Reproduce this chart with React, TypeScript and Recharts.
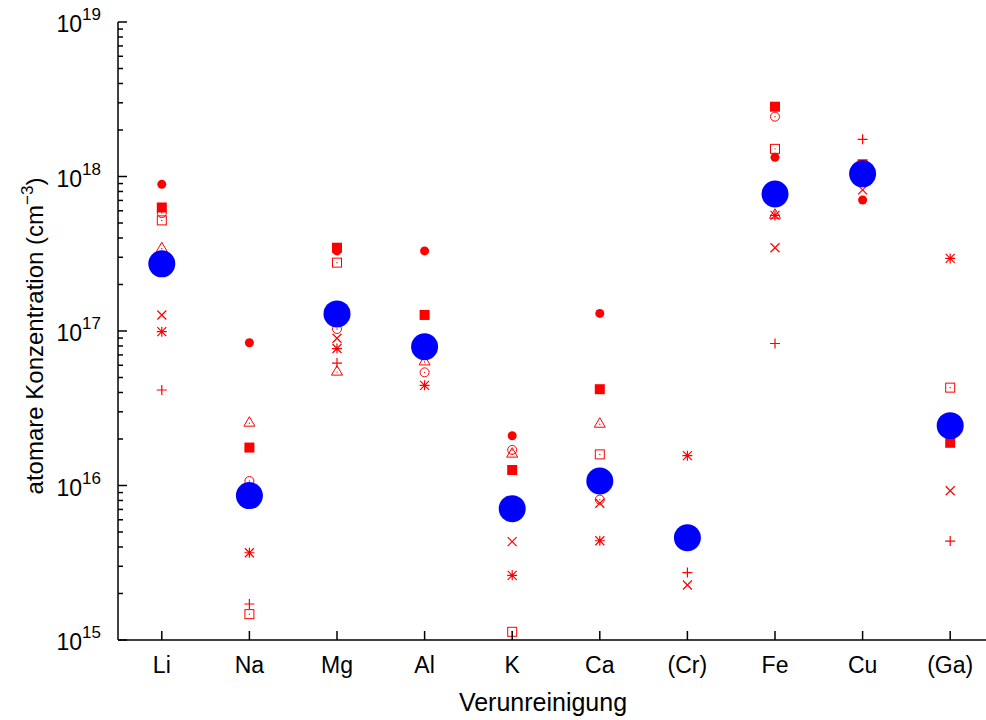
import { ScatterChart, Scatter, XAxis, YAxis } from 'recharts';

// layout of the gnuplot-style frame
const W = 995;
const H = 720;
const PLOT_LEFT = 118;
const PLOT_RIGHT = 994;
const PLOT_TOP = 22;
const PLOT_BOTTOM = 640;
const FONT = '"Liberation Sans", Arial, Helvetica, sans-serif';

const categories = ['Li', 'Na', 'Mg', 'Al', 'K', 'Ca', '(Cr)', 'Fe', 'Cu', '(Ga)'];

// red measurements, one array per symbol (null = no point)
const filledCircle = [8.9e17, 8.4e16, 3.3e17, 3.3e17, 2.1e16, 1.3e17, null, 1.33e18, 7.05e17, null];
const filledSquare = [6.3e17, 1.76e16, 3.46e17, 1.27e17, 1.26e16, 4.2e16, null, 2.83e18, 1.2e18, 1.89e16];
const openCircle = [5.8e17, 1.07e16, 1.03e17, 5.4e16, 1.7e16, 8.1e15, null, 2.44e18, null, null];
const openSquare = [5.2e17, 1.47e15, 2.77e17, null, 1.13e15, 1.59e16, null, 1.51e18, null, 4.3e16];
const openTriangle = [3.46e17, 2.57e16, 5.5e16, 6.4e16, 1.62e16, 2.53e16, null, 5.7e17, null, null];
const cross = [1.27e17, null, 8.97e16, null, 4.33e15, 7.67e15, 2.27e15, 3.46e17, 8.2e17, 9.25e15];
const star = [9.9e16, 3.67e15, 7.7e16, 4.45e16, 2.62e15, 4.39e15, 1.56e16, 5.6e17, null, 2.95e17];
const plus = [4.15e16, 1.71e15, 6.2e16, null, null, null, 2.73e15, 8.3e16, 1.74e18, 4.37e15];
// blue: mean values
const average = [2.72e17, 8.6e15, 1.29e17, 7.9e16, 7.08e15, 1.07e16, 4.59e15, 7.7e17, 1.04e18, 2.44e16];

const yTicks: number[] = [];
for (let e = 15; e < 19; e++) {
  for (let m = 1; m < 10; m++) yTicks.push(m * Math.pow(10, e));
}
yTicks.push(1e19);
const xTicks = categories.map((_, i) => i + 1);

const toPoints = (values: (number | null)[]) =>
  values
    .map((v, i) => (v == null ? null : { x: i + 1, y: v }))
    .filter((p) => p != null) as { x: number; y: number }[];

const RED = '#ff0000';
const BLUE = '#0000ff';

const isMajor = (v: number) => Math.abs(Math.log10(v) - Math.round(Math.log10(v))) < 1e-6;

// --- symbols ---
const FilledCircle = ({ cx, cy }: any) => <circle cx={cx} cy={cy} r={4.5} fill={RED} />;
const FilledSquare = ({ cx, cy }: any) => <rect x={cx - 5} y={cy - 5} width={10} height={10} fill={RED} />;
const OpenCircle = ({ cx, cy }: any) => (
  <g>
    <circle cx={cx} cy={cy} r={4.5} fill="none" stroke={RED} strokeWidth={1} />
    <circle cx={cx} cy={cy} r={0.7} fill={RED} />
  </g>
);
const OpenSquare = ({ cx, cy }: any) => (
  <g>
    <rect x={cx - 4.5} y={cy - 4.5} width={9} height={9} fill="none" stroke={RED} strokeWidth={1} />
    <circle cx={cx} cy={cy} r={0.7} fill={RED} />
  </g>
);
const OpenTriangle = ({ cx, cy }: any) => (
  <g>
    <polygon points={`${cx},${cy - 5.5} ${cx + 5.5},${cy + 4} ${cx - 5.5},${cy + 4}`} fill="none" stroke={RED} strokeWidth={1} />
    <circle cx={cx} cy={cy + 1} r={0.7} fill={RED} />
  </g>
);
const Cross = ({ cx, cy }: any) => (
  <path d={`M${cx - 4.5},${cy - 4.5}L${cx + 4.5},${cy + 4.5}M${cx - 4.5},${cy + 4.5}L${cx + 4.5},${cy - 4.5}`} stroke={RED} strokeWidth={1.2} />
);
const Plus = ({ cx, cy }: any) => (
  <path d={`M${cx - 5},${cy}L${cx + 5},${cy}M${cx},${cy - 5}L${cx},${cy + 5}`} stroke={RED} strokeWidth={1.2} />
);
const Star = ({ cx, cy }: any) => (
  <path
    d={`M${cx - 4.5},${cy - 4.5}L${cx + 4.5},${cy + 4.5}M${cx - 4.5},${cy + 4.5}L${cx + 4.5},${cy - 4.5}M${cx - 5},${cy}L${cx + 5},${cy}M${cx},${cy - 5}L${cx},${cy + 5}`}
    stroke={RED}
    strokeWidth={1.2}
  />
);
const BigDot = ({ cx, cy }: any) => <circle cx={cx} cy={cy} r={13.5} fill={BLUE} />;

// --- axis ticks (gnuplot style, pointing inward) ---
const LeftTick = (props: any) => {
  const { y, payload } = props;
  const major = isMajor(payload.value);
  const exp = Math.round(Math.log10(payload.value));
  return (
    <g>
      <line x1={PLOT_LEFT} x2={PLOT_LEFT + (major ? 9 : 5)} y1={y} y2={y} stroke="#000" strokeWidth={1.5} />
      {major && (
        <text x={101} y={y + 10} textAnchor="end" fontFamily={FONT} fill="#000">
          <tspan fontSize={23}>10</tspan>
          <tspan fontSize={17} dy={-12}>{exp}</tspan>
        </text>
      )}
    </g>
  );
};

const RightTick = (props: any) => {
  const { y, payload } = props;
  const major = isMajor(payload.value);
  return <line x1={PLOT_RIGHT} x2={PLOT_RIGHT - (major ? 9 : 5)} y1={y} y2={y} stroke="#000" strokeWidth={1.5} />;
};

const BottomTick = (props: any) => {
  const { x, payload } = props;
  return (
    <g>
      <line x1={x} x2={x} y1={PLOT_BOTTOM} y2={PLOT_BOTTOM - 9} stroke="#000" strokeWidth={1.5} />
      <text x={x} y={673} textAnchor="middle" fontFamily={FONT} fontSize={23} fill="#000">
        {categories[payload.value - 1]}
      </text>
    </g>
  );
};

const TopTick = (props: any) => {
  const { x } = props;
  return <line x1={x} x2={x} y1={PLOT_TOP} y2={PLOT_TOP + 9} stroke="#000" strokeWidth={1.5} />;
};

const YLabel = () => (
  <text
    x={0}
    y={0}
    transform={`translate(43, 336) rotate(-90)`}
    textAnchor="middle"
    fontFamily={FONT}
    fontSize={24}
    fill="#000"
  >
    atomare Konzentration (cm
    <tspan fontSize={17} dy={-10}>−3</tspan>
    <tspan dy={10}>)</tspan>
  </text>
);

const XLabel = () => (
  <text x={543} y={711} textAnchor="middle" fontFamily={FONT} fontSize={25} fill="#000">
    Verunreinigung
  </text>
);

const axisLine = { stroke: '#000', strokeWidth: 1.5 };

export default function App() {
  return (
    <div style={{ position: 'absolute', left: 0, top: 0, width: 986, height: 720, overflow: 'hidden', background: '#fff' }}>
      <ScatterChart width={W} height={H} margin={{ top: PLOT_TOP, right: W - PLOT_RIGHT, bottom: 0, left: 0 }}>
        <XAxis
          xAxisId="bottom"
          dataKey="x"
          type="number"
          domain={[0.5, 10.5]}
          ticks={xTicks}
          interval={0}
          height={H - PLOT_BOTTOM}
          axisLine={axisLine}
          tickLine={false}
          tick={<BottomTick />}
          label={{ content: () => <XLabel /> }}
        />
        <XAxis
          xAxisId="top"
          orientation="top"
          dataKey="x"
          type="number"
          domain={[0.5, 10.5]}
          ticks={xTicks}
          interval={0}
          height={0}
          axisLine={axisLine}
          tickLine={false}
          tick={<TopTick />}
        />
        <YAxis
          yAxisId="left"
          dataKey="y"
          type="number"
          scale="log"
          domain={[1e15, 1e19]}
          allowDataOverflow
          ticks={yTicks}
          interval={0}
          width={PLOT_LEFT}
          axisLine={axisLine}
          tickLine={false}
          tick={<LeftTick />}
          label={{ content: () => <YLabel /> }}
        />
        <YAxis
          yAxisId="right"
          orientation="right"
          dataKey="y"
          type="number"
          scale="log"
          domain={[1e15, 1e19]}
          allowDataOverflow
          ticks={yTicks}
          interval={0}
          width={0}
          axisLine={axisLine}
          tickLine={false}
          tick={<RightTick />}
        />
        <Scatter xAxisId="top" yAxisId="right" data={[]} isAnimationActive={false} />
        <Scatter xAxisId="bottom" yAxisId="left" data={toPoints(filledCircle)} shape={<FilledCircle />} isAnimationActive={false} />
        <Scatter xAxisId="bottom" yAxisId="left" data={toPoints(filledSquare)} shape={<FilledSquare />} isAnimationActive={false} />
        <Scatter xAxisId="bottom" yAxisId="left" data={toPoints(openCircle)} shape={<OpenCircle />} isAnimationActive={false} />
        <Scatter xAxisId="bottom" yAxisId="left" data={toPoints(openSquare)} shape={<OpenSquare />} isAnimationActive={false} />
        <Scatter xAxisId="bottom" yAxisId="left" data={toPoints(openTriangle)} shape={<OpenTriangle />} isAnimationActive={false} />
        <Scatter xAxisId="bottom" yAxisId="left" data={toPoints(cross)} shape={<Cross />} isAnimationActive={false} />
        <Scatter xAxisId="bottom" yAxisId="left" data={toPoints(star)} shape={<Star />} isAnimationActive={false} />
        <Scatter xAxisId="bottom" yAxisId="left" data={toPoints(plus)} shape={<Plus />} isAnimationActive={false} />
        <Scatter xAxisId="bottom" yAxisId="left" data={toPoints(average)} shape={<BigDot />} isAnimationActive={false} />
      </ScatterChart>
    </div>
  );
}
